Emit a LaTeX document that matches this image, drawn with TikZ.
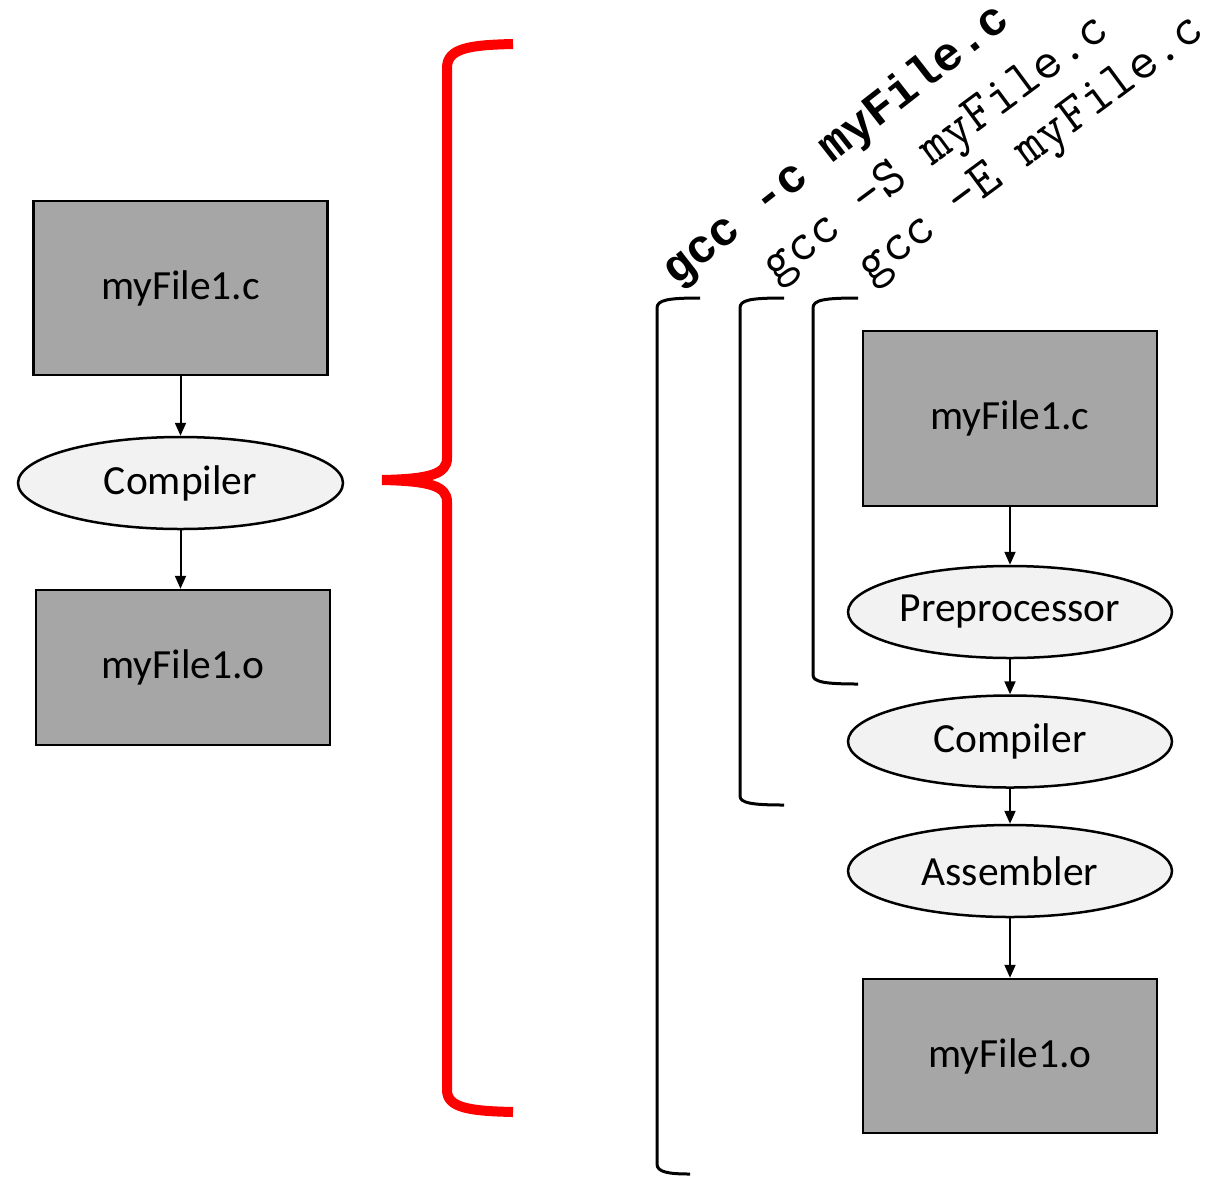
\documentclass[tikz,border=0pt]{standalone}
\usepackage{fontspec}
\usepackage{graphicx}
\setmainfont{Carlito}
\newfontfamily\monobold{Liberation Mono}
\usetikzlibrary{shapes.geometric,arrows.meta}
\tikzset{
  filebox/.style={draw=black,line width=2.5pt,fill=boxgray,rectangle,inner sep=0pt,
    minimum width=294pt,font=\fontsize{41.5}{48}\selectfont},
  stage/.style={draw=black,line width=2.5pt,fill=ellfill,ellipse,inner sep=0pt,
    minimum width=324pt,minimum height=92pt,font=\fontsize{41.5}{48}\selectfont},
  flow/.style={draw=black,line width=2pt,-{Triangle[length=13pt,width=11pt]}},
  redbrace/.style={draw=red,line width=10pt},
  bracket/.style={draw=black,line width=3pt},
  cmdbold/.style={inner sep=0pt,font=\monobold\bfseries\fontsize{47.3}{52}\selectfont},
  cmdlight/.style={inner sep=0pt,font=\ttfamily\fontsize{54}{58}\selectfont},
}
\definecolor{boxgray}{HTML}{A6A6A6}
\definecolor{ellfill}{HTML}{F2F2F2}
\begin{document}
\begin{tikzpicture}[x=1pt,y=-1pt]
\useasboundingbox (0,0) rectangle (1207,1176);
% left diagram
\node[filebox,minimum height=174pt] (lbox1) at (180.5,288) {myFile1.c};
\node[stage,minimum width=325pt] (lcomp) at (180.5,483) {Compiler};
\node[filebox,minimum height=155pt] (lbox2) at (183,667.5) {myFile1.o};
\draw[flow] (lbox1.south -| lcomp.north) -- (lcomp.north);
\draw[flow] (lcomp.south) -- (lcomp.south |- lbox2.north);
% red brace
\draw[redbrace] (513,44) .. controls (470,45) and (447,48) .. (447,68) -- (447,458)
  .. controls (447,474) and (430,479) .. (382,480)
  .. controls (430,481) and (447,486) .. (447,502) -- (447,1090)
  .. controls (447,1108) and (470,1111) .. (513,1112);
% right diagram
\node[filebox,minimum height=175pt] (rbox1) at (1010,418.5) {myFile1.c};
\node[stage] (rpre) at (1010,612) {Preprocessor};
\node[stage] (rcomp) at (1010,741.5) {Compiler};
\node[stage] (rasm) at (1010,871) {Assembler};
\node[filebox,minimum height=154pt] (rbox2) at (1010,1056) {myFile1.o};
\draw[flow] (rbox1) -- (rpre);
\draw[flow] (rpre) -- (rcomp);
\draw[flow] (rcomp) -- (rasm);
\draw[flow] (rasm) -- (rbox2);
% black brackets
\draw[bracket] (700,298) .. controls (668,298) and (657,300) .. (657,308) -- (657,1164)
  .. controls (657,1172) and (668,1174) .. (690,1174);
\draw[bracket] (784,298) .. controls (750,298) and (740,300) .. (740,308) -- (740,796)
  .. controls (740,803) and (752,805) .. (784,805);
\draw[bracket] (858,298) .. controls (824,298) and (813,300) .. (813,308) -- (813,675)
  .. controls (813,682) and (825,684) .. (858,684);
% commands
\node[cmdbold] (cmdc) at (836.5,145.5) {\rotatebox{38}{gcc -c myFile.c}};
\node[cmdlight] (cmds) at (937,150) {\rotatebox{36.5}{gcc -S myFile.c}};
\node[cmdlight] (cmde) at (1032.5,151) {\rotatebox{36.5}{gcc -E myFile.c}};
\end{tikzpicture}
\end{document}
